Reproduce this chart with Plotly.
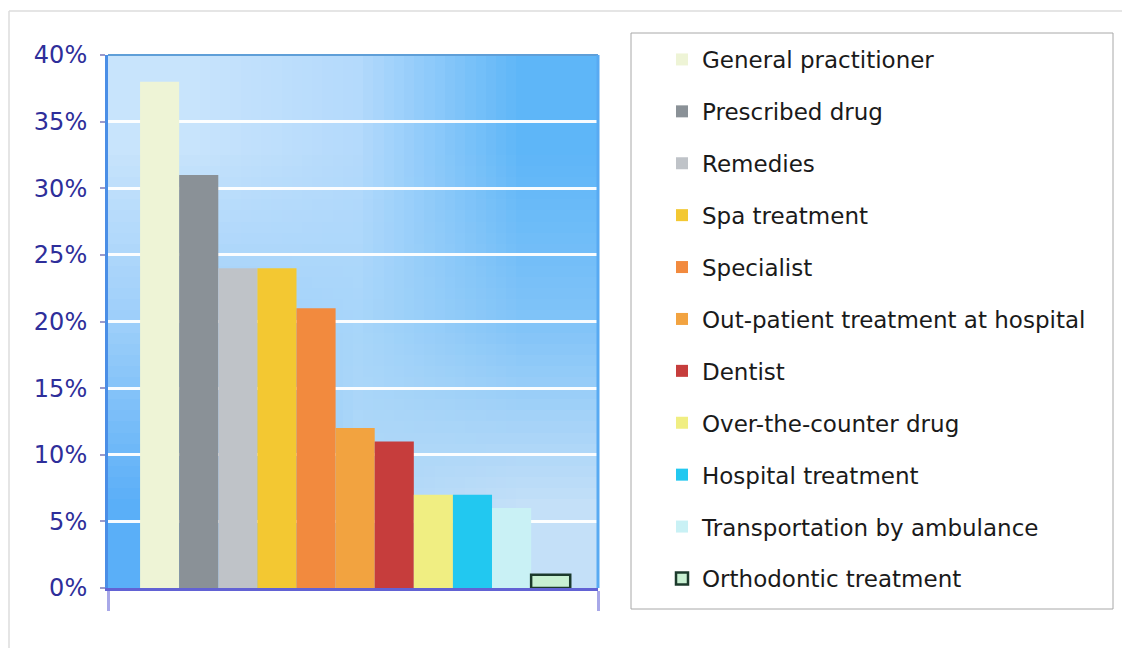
import base64, struct, zlib
import plotly.graph_objects as go

# ---- data ----
categories = ["General practitioner", "Prescribed drug", "Remedies", "Spa treatment",
              "Specialist", "Out-patient treatment at hospital", "Dentist",
              "Over-the-counter drug", "Hospital treatment", "Transportation by ambulance",
              "Orthodontic treatment"]
values = [38, 31, 24, 24, 21, 12, 11, 7, 7, 6, 1]
colors = ["#eef4d6", "#8a9197", "#bfc3c8", "#f3c832", "#f28a3e", "#f2a340", "#c63d3c",
          "#f0ee82", "#22c8f0", "#c9f1f5", "#c8f0d2"]
outline = ["rgba(0,0,0,0)"] * 10 + ["#1c3a2c"]
y_ticks = [0, 5, 10, 15, 20, 25, 30, 35, 40]
y_labels = [f"{t}%" for t in y_ticks]

# ---- background gradient image (tiny PNG, stretched) ----
grid = [
    ["#c8e4fc", "#b4dafc", "#5eb6f8"],
    ["#9ccefa", "#a8d6fa", "#82c4f8"],
    ["#5aaff8", "#b0d8f8", "#c4e0f8"],
]

def hex2rgb(h):
    h = h.lstrip("#")
    return [int(h[i:i + 2], 16) for i in (0, 2, 4)]

def make_png(rows):
    h = len(rows); w = len(rows[0])
    raw = b"".join(b"\x00" + bytes(sum((hex2rgb(c) for c in r), [])) for r in rows)
    def chunk(t, d):
        return struct.pack(">I", len(d)) + t + d + struct.pack(">I", zlib.crc32(t + d) & 0xffffffff)
    return (b"\x89PNG\r\n\x1a\n" + chunk(b"IHDR", struct.pack(">IIBBBBB", w, h, 8, 2, 0, 0, 0))
            + chunk(b"IDAT", zlib.compress(raw)) + chunk(b"IEND", b""))

png_uri = "data:image/png;base64," + base64.b64encode(make_png(grid)).decode()

# ---- figure ----
W, H = 1122, 648
L, R, T, B = 108, 524, 55, 60
pw, ph = W - L - R, H - T - B
xr = [-1.32, 11.21]

def px(xp):
    return (xp - L) / pw

def py(yp):
    return (H - B - yp) / ph

fig = go.Figure()
for i, (c, v) in enumerate(zip(categories, values)):
    fig.add_trace(go.Bar(
        x=[i], y=[v], name=c, width=1, legendgroup=c,
        marker=dict(color=colors[i], line=dict(color=outline[i], width=2.5 if i == 10 else 0)),
        showlegend=True,
    ))

fig.update_layout(
    width=W, height=H,
    margin=dict(l=L, r=R, t=T, b=B),
    paper_bgcolor="white",
    plot_bgcolor="rgba(0,0,0,0)",
    barmode="overlay",
    font=dict(family="DejaVu Sans"),
    images=[dict(source=png_uri, xref="paper", yref="paper", x=0, y=1, sizex=1, sizey=1,
                 sizing="stretch", xanchor="left", yanchor="top", layer="below")],
    legend=dict(
        xref="container", yref="container",
        x=(662) / W, y=1 - 38 / H, xanchor="left", yanchor="top",
        bgcolor="rgba(0,0,0,0)", borderwidth=0,
        font=dict(family="DejaVu Sans", size=23, color="#1a1a1a"),
        traceorder="grouped", tracegroupgap=19,
        maxheight=640,
    ),
    showlegend=True,
    shapes=[
        # outer frame
        dict(type="line", xref="paper", yref="paper", x0=px(9), x1=px(W + 5), y0=py(11), y1=py(11),
             line=dict(color="#dcdcdc", width=1.5), layer="below"),
        dict(type="line", xref="paper", yref="paper", x0=px(9), x1=px(9), y0=py(11), y1=py(H + 5),
             line=dict(color="#dcdcdc", width=1.5), layer="below"),
        # legend box
        dict(type="rect", xref="paper", yref="paper", x0=px(631), x1=px(1113), y0=py(609), y1=py(33),
             line=dict(color="#a8a8a8", width=1), fillcolor="white", layer="below"),
        # top and right borders of plot
        dict(type="line", xref="paper", yref="paper", x0=0, x1=1, y0=1, y1=1,
             line=dict(color="#5f9fd8", width=2)),
        dict(type="line", xref="paper", yref="paper", x0=1, x1=1, y0=0, y1=1,
             line=dict(color="#58aaf2", width=3)),
    ],
)

fig.update_yaxes(
    range=[0, 40], tickvals=y_ticks, ticktext=y_labels,
    showgrid=True, gridcolor="rgba(255,255,255,0.95)", gridwidth=2.5,
    zeroline=False, showline=True, linecolor="#4a8ee6", linewidth=3,
    ticks="outside", ticklen=5, tickcolor="#9a9acc", tickwidth=1.5,
    tickfont=dict(family="DejaVu Sans", size=24, color="#2e2e9a"),
    ticklabelstandoff=8,
)
fig.update_xaxes(
    range=xr, tickvals=xr, showticklabels=False, showgrid=False, zeroline=False,
    ticks="outside", ticklen=20, tickwidth=3, tickcolor="#a8a8e8",
    showline=True, linecolor="rgba(70,70,205,0.85)", linewidth=3,
)

fig.write_html("out.html")
